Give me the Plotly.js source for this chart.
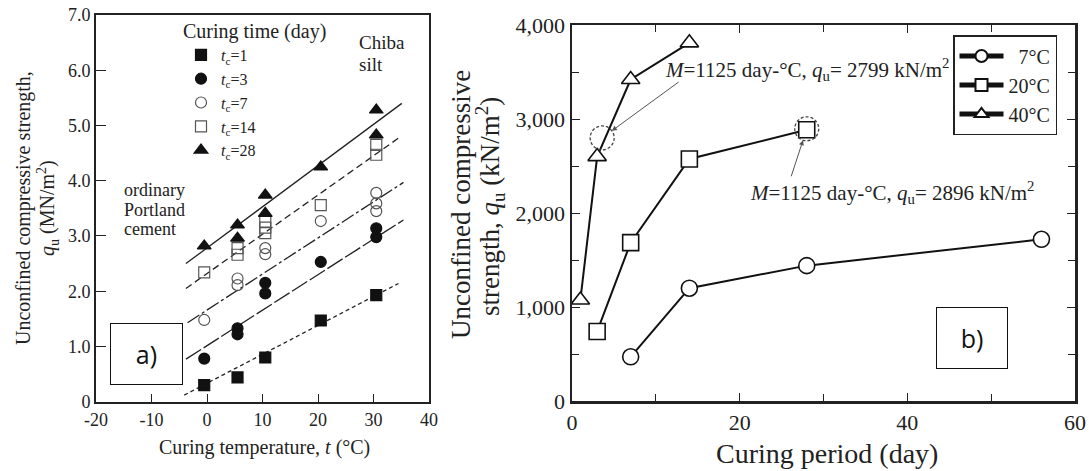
<!DOCTYPE html>
<html><head><meta charset="utf-8">
<script src="https://cdn.plot.ly/plotly-3.0.1.min.js"></script>
<style>html,body{margin:0;padding:0;background:#fff}#chart{width:1089px;height:471px}</style>
</head><body><div id="chart"></div>
<script>
// ---------- Panel a) data: unconfined compressive strength (MN/m2) vs curing temperature (°C)
const tc1_t  = [-0.5, 5.5, 10.5, 20.5, 30.5];
const tc1_q  = [0.30, 0.44, 0.80, 1.47, 1.93];
const tc3_t  = [-0.5, 5.5, 5.5, 10.5, 10.5, 20.5, 30.5, 30.5];
const tc3_q  = [0.78, 1.33, 1.22, 2.15, 1.96, 2.53, 3.14, 2.98];
const tc7_t  = [-0.5, 5.5, 5.5, 10.5, 10.5, 20.5, 30.5, 30.5, 30.5];
const tc7_q  = [1.48, 2.23, 2.11, 2.78, 2.67, 3.27, 3.78, 3.59, 3.45];
const tc14_t = [-0.5, 5.5, 5.5, 10.5, 10.5, 10.5, 20.5, 30.5, 30.5];
const tc14_q = [2.34, 2.78, 2.66, 3.26, 3.15, 3.05, 3.56, 4.65, 4.47];
const tc28_t = [-0.5, 5.5, 5.5, 10.5, 10.5, 20.5, 30.5, 30.5];
const tc28_q = [2.82, 3.20, 2.96, 3.74, 3.41, 4.25, 5.28, 4.83];
// fitted trend lines (end points)
const fit1_t  = [-4.1, 34.5];  const fit1_q  = [0.12, 2.14];
const fit3_t  = [-3.8, 35.4];  const fit3_q  = [0.77, 3.29];
const fit7_t  = [-3.5, 35.4];  const fit7_q  = [1.43, 3.97];
const fit14_t = [-3.8, 34.9];  const fit14_q = [2.05, 4.80];
const fit28_t = [-3.8, 35.1];  const fit28_q = [2.50, 5.40];
const aXTicks = [-20, -10, 0, 10, 20, 30, 40];
const aXTickText = ['-20', '-10', '0', '10', '20', '30', '40'];
const aYTicks = [0, 1, 2, 3, 4, 5, 6, 7];
const aYTickText = ['0', '1.0', '2.0', '3.0', '4.0', '5.0', '6.0', '7.0'];
const aLegendNames = ['<i>t</i><sub>c</sub>=1', '<i>t</i><sub>c</sub>=3', '<i>t</i><sub>c</sub>=7',
                      '<i>t</i><sub>c</sub>=14', '<i>t</i><sub>c</sub>=28'];
const aXTitle = 'Curing temperature, <i>t</i> (°C)';
const aYTitle = ['Unconfined compressive strength,', '<i>q</i><sub>u</sub> (MN/m<sup>2</sup>)'];
const cementLines = ['ordinary', 'Portland', 'cement'];
const soilLines = ['Chiba', 'silt'];

// ---------- Panel b) data: unconfined compressive strength (kN/m2) vs curing period (day)
const days7  = [7, 14, 28, 56];   const qu7  = [470, 1200, 1440, 1720];
const days20 = [3, 7, 14, 28];    const qu20 = [740, 1685, 2575, 2885];
const days40 = [1, 3, 7, 14];     const qu40 = [1075, 2600, 3420, 3810];
const bNames = ['\u00a0\u00a07°C', '20°C', '40°C'];
const bXTitle = 'Curing period (day)';
const bYTitle = ['Unconfined compressive', 'strength, <i>q</i><sub>u</sub> (kN/m<sup>2</sup>)'];
const markDays = [3.6, 28];       const markQu = [2799, 2896];
const markText = ['<i>M</i>=1125 day-°C, <i>q</i><sub>u</sub>= 2799 kN/m<sup>2</sup>',
                  '<i>M</i>=1125 day-°C, <i>q</i><sub>u</sub>= 2896 kN/m<sup>2</sup>'];

// ---------- helpers for pixel -> paper
const W = 1089, H = 471;
const PX = p => p / W;
const PY = p => 1 - p / H;
const SERIF = '"Liberation Serif", "Times New Roman", serif';
const SANS = '"Open Sans", "Liberation Sans", sans-serif';
const F = (size, extra) => Object.assign({family: SERIF, size, color: '#222'}, extra || {});

const fitLine = (x, y, dash) => ({x, y, xaxis: 'x', yaxis: 'y', mode: 'lines', showlegend: false,
  hoverinfo: 'skip', line: {color: '#222', width: 1.3, dash}});
const pts = (x, y, name, symbol, color, size) => ({x, y, name, xaxis: 'x', yaxis: 'y', mode: 'markers',
  legend: 'legend', marker: {symbol, size, color, line: {color, width: 1.2}}});

const bLine = (x, y, name, symbol) => ({x, y, name, xaxis: 'x2', yaxis: 'y2', mode: 'lines+markers',
  legend: 'legend2', line: {color: '#111', width: 2},
  marker: {symbol, size: 16, color: '#fff', line: {color: '#111', width: 1.6}}});

const traces = [
  fitLine(fit28_t, fit28_q, 'solid'),
  fitLine(fit14_t, fit14_q, '7px,4px'),
  fitLine(fit7_t, fit7_q, '14px,3px,3px,3px'),
  fitLine(fit3_t, fit3_q, '18px,3px'),
  fitLine(fit1_t, fit1_q, '4px,3px'),
  pts(tc1_t, tc1_q, aLegendNames[0], 'square', '#111', 11),
  pts(tc3_t, tc3_q, aLegendNames[1], 'circle', '#111', 11),
  pts(tc7_t, tc7_q, aLegendNames[2], 'circle-open', '#555', 11),
  pts(tc14_t, tc14_q, aLegendNames[3], 'square-open', '#555', 11),
  pts(tc28_t, tc28_q, aLegendNames[4], 'triangle-up', '#111', 12),
  bLine(days7, qu7, bNames[0], 'circle'),
  bLine(days20, qu20, bNames[1], 'square'),
  bLine(days40, qu40, bNames[2], 'triangle-up')
];

const axisCommon = {showline: true, linecolor: '#222', mirror: true, ticks: 'inside', tickcolor: '#222',
  showgrid: false, zeroline: false, automargin: false};

const txt = (x, y, text, font, extra) => Object.assign({xref: 'paper', yref: 'paper', x: PX(x), y: PY(y),
  xanchor: 'center', yanchor: 'middle', showarrow: false, text, font}, extra || {});

const annotations = [
  // axis titles
  txt(264, 447, aXTitle, F(20)),
  txt(23, 208, aYTitle[0], F(20), {textangle: -90}),
  txt(48, 208, aYTitle[1], F(20), {textangle: -90}),
  txt(827, 453, bXTitle, F(28)),
  txt(461, 205, bYTitle[0], F(27), {textangle: -90}),
  txt(490, 207, bYTitle[1], F(27), {textangle: -90}),
  // panel labels
  txt(146.5, 354, 'a)', {family: SANS, size: 25, color: '#111'},
    {bgcolor: '#fff', bordercolor: '#111', borderwidth: 1, width: 69, height: 58}),
  txt(972, 338, 'b)', {family: SANS, size: 25, color: '#111'},
    {bgcolor: '#fff', bordercolor: '#111', borderwidth: 1, width: 68, height: 58}),
  // maturity notes
  txt(663, 70, markText[0], F(21), {xanchor: 'left'}),
  txt(748, 192, markText[1], F(21), {xanchor: 'left'}),
  {xref: 'x2', yref: 'y2', x: markDays[0], y: markQu[0], ax: 78, ay: -57, text: '', showarrow: true,
    arrowhead: 2, arrowsize: 1, arrowwidth: 1, arrowcolor: '#555', standoff: 12},
  {xref: 'x2', yref: 'y2', x: markDays[1], y: markQu[1], ax: -16, ay: 49, text: '', showarrow: true,
    arrowhead: 2, arrowsize: 1, arrowwidth: 1, arrowcolor: '#555', standoff: 12}
];
cementLines.forEach((t, i) => annotations.push(txt(122, 190 + 19.5 * i, t, F(18), {xanchor: 'left'})));
soilLines.forEach((t, i) => annotations.push(txt(357, 43 + 22 * i, t, F(19), {xanchor: 'left'})));

const layout = {
  width: W, height: H, margin: {l: 0, r: 0, t: 0, b: 0},
  paper_bgcolor: '#fff', plot_bgcolor: '#fff',
  font: F(17),
  xaxis: Object.assign({}, axisCommon, {domain: [PX(96), PX(429)], anchor: 'y', range: [-20, 40],
    tickvals: aXTicks, ticktext: aXTickText, ticklen: 8, linewidth: 2, tickfont: F(18), ticklabelstandoff: 1}),
  yaxis: Object.assign({}, axisCommon, {domain: [PY(401.7), PY(15)], anchor: 'x', range: [0, 7],
    tickvals: aYTicks, ticktext: aYTickText, ticklen: 10, linewidth: 2, tickfont: F(18)}),
  xaxis2: Object.assign({}, axisCommon, {domain: [PX(572), PX(1075)], anchor: 'y2', range: [0, 60],
    dtick: 20, ticklen: 8, linewidth: 2.5, mirror: 'ticks', tickfont: F(22), ticklabelstandoff: 0,
    minor: {dtick: 10, ticks: 'inside', ticklen: 7, tickcolor: '#222', showgrid: false}}),
  yaxis2: Object.assign({}, axisCommon, {domain: [PY(401), PY(25)], anchor: 'x2', range: [0, 4000],
    dtick: 1000, tickformat: ',d', ticklen: 8, linewidth: 2.5, mirror: 'ticks', tickfont: F(22),
    minor: {dtick: 500, ticks: 'inside', ticklen: 7, tickcolor: '#222', showgrid: false}}),
  legend: {x: PX(181), y: PY(12), xanchor: 'left', yanchor: 'top', bgcolor: 'rgba(0,0,0,0)',
    borderwidth: 0, font: F(16), tracegroupgap: 0,
    title: {text: 'Curing time (day)', font: F(20), side: 'top'}},
  legend2: {x: PX(953), y: PY(35), xanchor: 'left', yanchor: 'top', bgcolor: '#fff',
    bordercolor: '#222', borderwidth: 1.5, font: F(20), itemwidth: 44, itemsizing: 'constant'},
  shapes: markDays.map((d, i) => ({type: 'circle', xref: 'x2', yref: 'y2',
    xsizemode: 'pixel', ysizemode: 'pixel', xanchor: d, yanchor: markQu[i],
    x0: -12, x1: 12, y0: -12, y1: 12, line: {color: '#444', width: 1.3, dash: '3px,2px'}})),
  annotations
};

Plotly.newPlot('chart', traces, layout, {displayModeBar: false, staticPlot: true});
</script></body></html>
